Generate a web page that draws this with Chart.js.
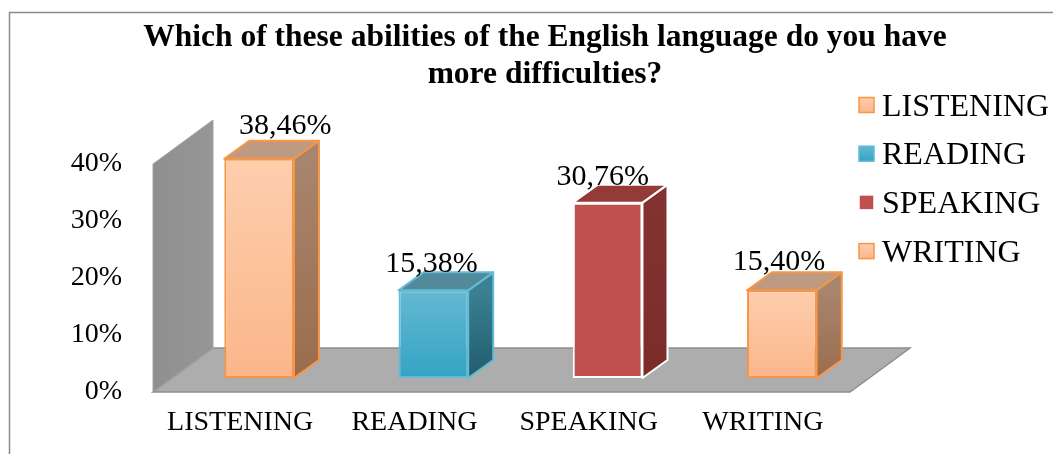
<!DOCTYPE html>
<html>
<head>
<meta charset="utf-8">
<script src="https://cdn.jsdelivr.net/npm/chart.js@4.4.0/dist/chart.umd.min.js"></script>
<style>
  html, body { margin: 0; padding: 0; background: #fff; overflow: hidden; }
  #wrap { width: 1053px; height: 454px; }
</style>
</head>
<body>
<div id="wrap"><canvas id="skills" width="1053" height="454"></canvas></div>
<script>
var skills = ['LISTENING', 'READING', 'SPEAKING', 'WRITING'];
var shares = [38.46, 15.38, 30.76, 15.40];
var yMax = 40;
var yStep = 10;
var titleLines = ['Which of these abilities of the English language do you have', 'more difficulties?'];

// colours of each prism: front gradient, side gradient, lid, outline
var faces = [
    {top: '#FDCEAD', bottom: '#FBB68A', side: ['#A8856D', '#9B6C4D'], lid: '#BF9A82', edge: '#F79646'},
    {top: '#64B9D2', bottom: '#35A3C4', side: ['#3B8093', '#215C6C'], lid: '#528A9B', edge: '#62BCD5'},
    {top: '#C0504D', bottom: '#C0504D', side: ['#84322F', '#7A2C2B'], lid: '#943A38', edge: '#FFFFFF'},
    {top: '#FDCEAD', bottom: '#FBB68A', side: ['#A8856D', '#9B6C4D'], lid: '#BF9A82', edge: '#F79646'}
];

var serif = 'Liberation Serif, Times New Roman, serif';

// 3d look: floor/wall depth, bar offset into the floor and bar depth
var depth = {x: 60, y: -44};
var shift = {x: 19, y: -14};
var barDepth = {x: 25, y: -18};
var labelNudge = [[26, -6], [-2, 1], [-5, 1], [-3, -1]];

function pct(v) {
    return v.toFixed(2).replace('.', ',') + '%';
}

function frontFill(c) {
    var f = faces[c.dataIndex];
    var y = c.chart.scales.y;
    if (!c.chart.chartArea || !y) return f.bottom;
    var g = c.chart.ctx.createLinearGradient(0, y.getPixelForValue(shares[c.dataIndex]), 0, y.getPixelForValue(0));
    g.addColorStop(0, f.top);
    g.addColorStop(1, f.bottom);
    return g;
}

function poly(ctx, pts) {
    ctx.beginPath();
    ctx.moveTo(pts[0][0], pts[0][1]);
    for (var i = 1; i < pts.length; i++) ctx.lineTo(pts[i][0], pts[i][1]);
    ctx.closePath();
}

var scene = {
    id: 'scene',
    beforeDraw: function (chart) {
        var ctx = chart.ctx;
        ctx.save();
        ctx.strokeStyle = '#8a8a8a';
        ctx.lineWidth = 1.5;
        ctx.strokeRect(9.5, 12.5, 1200, 600);
        ctx.restore();
    },
    beforeDatasetsDraw: function (chart) {
        var ctx = chart.ctx, a = chart.chartArea, ys = chart.scales.y;
        var top = ys.getPixelForValue(yMax), base = ys.getPixelForValue(0);

        ctx.save();
        // floor
        poly(ctx, [[a.left, base], [a.right, base], [a.right + depth.x, base + depth.y], [a.left + depth.x, base + depth.y]]);
        ctx.fillStyle = '#ADADAD';
        ctx.fill();
        ctx.strokeStyle = '#8E8E8E';
        ctx.lineWidth = 1.5;
        ctx.stroke();
        // side wall
        poly(ctx, [[a.left, top], [a.left + depth.x, top + depth.y], [a.left + depth.x, base + depth.y], [a.left, base]]);
        var g = ctx.createLinearGradient(a.left, 0, a.left + depth.x, 0);
        g.addColorStop(0, '#8F8F8F');
        g.addColorStop(1, '#969696');
        ctx.fillStyle = g;
        ctx.fill();
        ctx.strokeStyle = '#A3A3A3';
        ctx.lineWidth = 1;
        ctx.stroke();
        ctx.restore();

        ctx.save();
        ctx.translate(shift.x, shift.y);
    },
    afterDatasetsDraw: function (chart) {
        var ctx = chart.ctx;
        chart.getDatasetMeta(0).data.forEach(function (bar, i) {
            var f = faces[i];
            var l = bar.x - bar.width / 2, r = bar.x + bar.width / 2;
            var t = bar.y, b = bar.base;
            // side
            poly(ctx, [[r, t], [r + barDepth.x, t + barDepth.y], [r + barDepth.x, b + barDepth.y], [r, b]]);
            var g = ctx.createLinearGradient(0, t, 0, b);
            g.addColorStop(0, f.side[0]);
            g.addColorStop(1, f.side[1]);
            ctx.fillStyle = g;
            ctx.fill();
            ctx.strokeStyle = f.edge;
            ctx.lineWidth = 2;
            ctx.lineJoin = 'round';
            ctx.stroke();
            // lid
            poly(ctx, [[l, t], [l + barDepth.x, t + barDepth.y], [r + barDepth.x, t + barDepth.y], [r, t]]);
            ctx.fillStyle = f.lid;
            ctx.fill();
            ctx.stroke();
        });
        ctx.restore();
    },
    afterDraw: function (chart) {
        var ctx = chart.ctx;
        ctx.save();
        ctx.fillStyle = '#000';

        // value labels
        ctx.font = '30px ' + serif;
        ctx.textAlign = 'center';
        ctx.textBaseline = 'alphabetic';
        chart.getDatasetMeta(0).data.forEach(function (bar, i) {
            ctx.fillText(pct(shares[i]), bar.x + shift.x + labelNudge[i][0], bar.y + shift.y - 19 + labelNudge[i][1]);
        });

        // title
        ctx.font = 'bold 31.5px ' + serif;
        ctx.fillText(titleLines[0], 545, 46);
        ctx.fillText(titleLines[1], 545, 83);

        // legend
        ctx.font = '32px ' + serif;
        ctx.textAlign = 'left';
        skills.forEach(function (name, i) {
            var f = faces[i];
            var cy = 105 + i * 48.7;
            var g = ctx.createLinearGradient(0, cy - 7.5, 0, cy + 7.5);
            g.addColorStop(0, f.top);
            g.addColorStop(1, f.bottom);
            ctx.fillStyle = g;
            ctx.fillRect(859, cy - 7.5, 15, 15);
            ctx.strokeStyle = f.edge;
            ctx.lineWidth = 1.5;
            ctx.strokeRect(859, cy - 7.5, 15, 15);
            ctx.fillStyle = '#000';
            ctx.fillText(name, 882, cy + 10.5);
        });
        ctx.restore();
    }
};

var ctx = document.getElementById('skills').getContext('2d');
var chart = new Chart(ctx, {
    type: 'bar',
    data: {
        labels: skills,
        datasets: [{
            data: shares,
            backgroundColor: frontFill,
            borderColor: faces.map(function (f) { return f.edge; }),
            borderWidth: 2,
            borderSkipped: false,
            barPercentage: 0.4,
            categoryPercentage: 1
        }]
    },
    options: {
        responsive: false,
        animation: false,
        layout: {padding: {left: 0, right: 203, top: 164, bottom: 0}},
        plugins: {
            legend: {display: false},
            title: {display: false},
            tooltip: {enabled: false}
        },
        scales: {
            x: {
                grid: {display: false, drawTicks: false},
                border: {display: false},
                ticks: {color: '#000', font: {family: serif, size: 28}, padding: 14, maxRotation: 0, autoSkip: false},
                afterFit: function (s) { s.height = 62; }
            },
            y: {
                min: 0,
                max: yMax,
                grid: {display: false, drawTicks: false},
                border: {display: false},
                ticks: {
                    stepSize: yStep,
                    color: '#000',
                    font: {family: serif, size: 28},
                    padding: 31,
                    callback: function (v) { return v + '%'; }
                },
                afterFit: function (s) { s.width = 153; }
            }
        }
    },
    plugins: [scene]
});
</script>
</body>
</html>
